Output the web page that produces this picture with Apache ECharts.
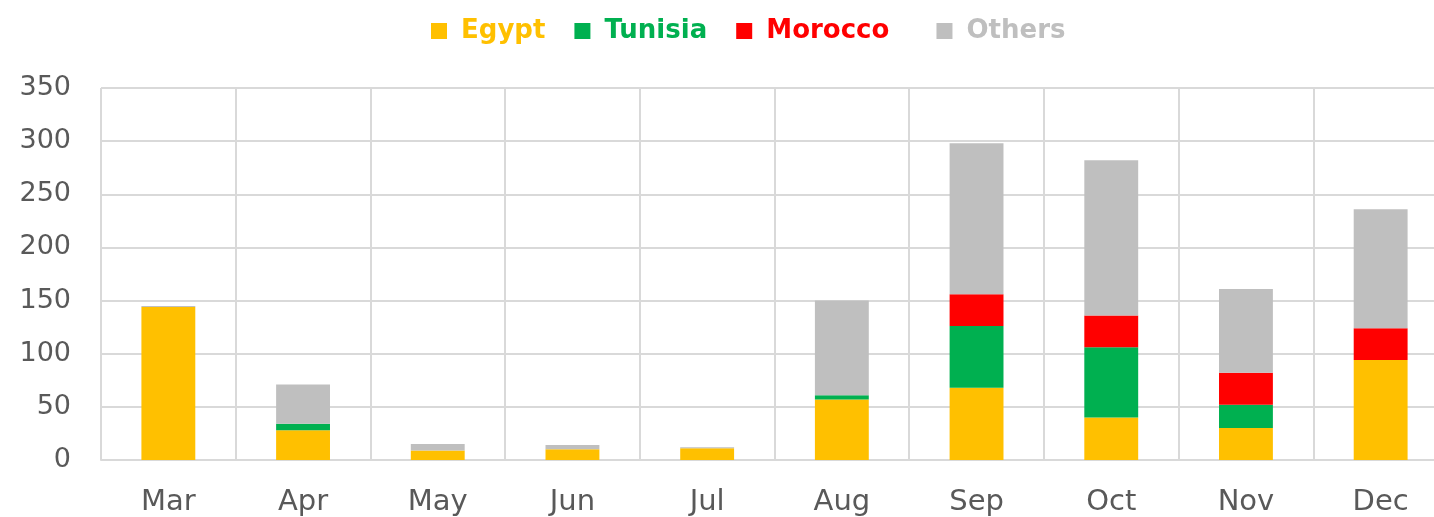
<!DOCTYPE html>
<html>
<head>
<meta charset="utf-8">
<script src="https://cdn.jsdelivr.net/npm/echarts@6/dist/echarts.min.js"></script>
<style>
  html, body { margin: 0; padding: 0; background: #fff; }
  #chart { width: 1434px; height: 517px; }
</style>
</head>
<body>
<div id="chart"></div>
<script>
const months = ['Mar', 'Apr', 'May', 'Jun', 'Jul', 'Aug', 'Sep', 'Oct', 'Nov', 'Dec']
const egypt = [144, 28, 9, 10, 11, 57, 68, 40, 30, 94]
const tunisia = [0, 6, 0, 0, 0, 4, 58, 66, 22, 0]
const morocco = [0, 0, 0, 0, 0, 0, 30, 30, 30, 30]
const others = [1, 37, 6, 4, 1, 89, 142, 146, 79, 112]

const colors = { Egypt: '#FFC000', Tunisia: '#00B050', Morocco: '#FF0000', Others: '#BFBFBF' }
const fontFamily = '"DejaVu Sans", sans-serif'

const chart = echarts.init(document.getElementById('chart'))

function makeSeries(name, data) {
  return {
    name,
    type: 'bar',
    stack: 'total',
    data,
    barWidth: '40%',
    itemStyle: { color: colors[name] },
  }
}

chart.setOption({
  animation: false,
  legend: {
    top: 13,
    left: 426,
    itemWidth: 16,
    itemHeight: 16,
    itemGap: 29,
    icon: 'rect',
    data: Object.keys(colors).map(name => ({
      name,
      textStyle: { color: colors[name] },
    })),
    // Morocco is a bit wider in the original font
    formatter: name => (name === 'Morocco' ? '\u00a0' + name + '\u00a0\u00a0' : '\u00a0' + name),
    textStyle: { fontSize: 26, fontWeight: 'bold', fontFamily },
  },
  grid: { left: 101, width: 1347, top: 88, bottom: 57, outerBoundsMode: 'none', containLabel: false },
  xAxis: {
    type: 'category',
    data: months,
    axisTick: { show: false },
    axisLine: { lineStyle: { color: '#D9D9D9', width: 2 } },
    splitLine: { show: true, lineStyle: { color: '#D9D9D9', width: 2 } },
    axisLabel: { color: '#595959', fontSize: 29, fontFamily, margin: 28 },
  },
  yAxis: {
    type: 'value',
    min: 0,
    max: 350,
    interval: 50,
    axisLine: { show: false },
    axisTick: { show: false },
    splitLine: { lineStyle: { color: '#D9D9D9', width: 2 } },
    axisLabel: { color: '#595959', fontSize: 27, fontFamily, margin: 30 },
  },
  series: [
    makeSeries('Egypt', egypt),
    makeSeries('Tunisia', tunisia),
    makeSeries('Morocco', morocco),
    makeSeries('Others', others),
  ],
})
</script>
</body>
</html>
